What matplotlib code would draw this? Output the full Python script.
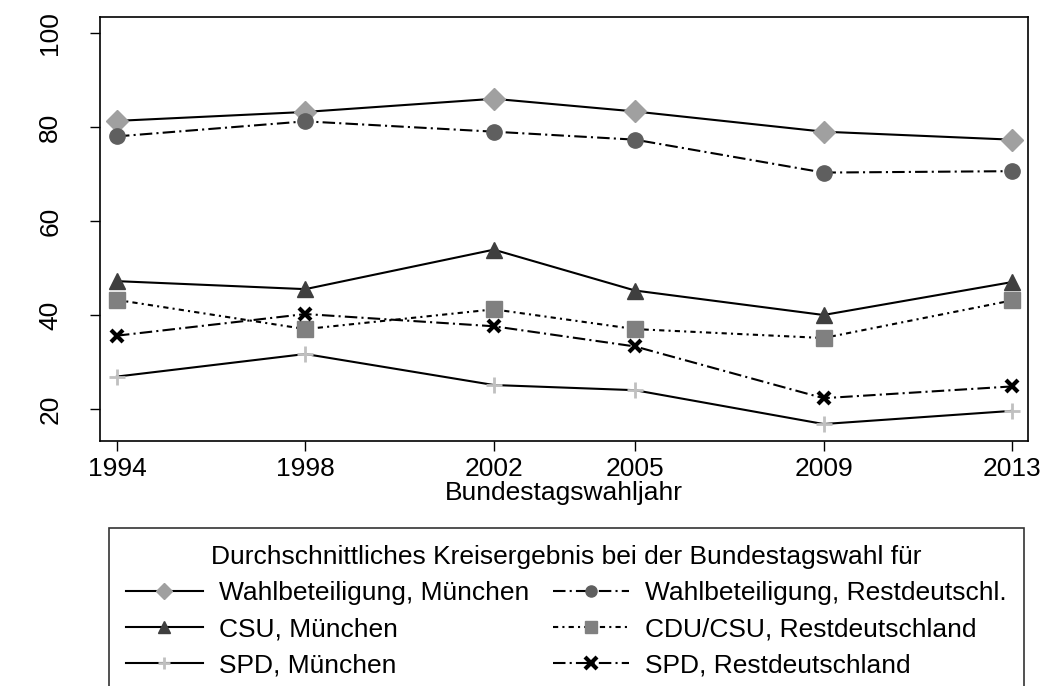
import matplotlib
matplotlib.use("Agg")
import matplotlib.pyplot as plt

plt.rcParams['font.family'] = ['Liberation Sans', 'DejaVu Sans']

# election years
years = [1994, 1998, 2002, 2005, 2009, 2013]

# average district results (percent)
turnout_muc = [81.3, 83.2, 86.0, 83.3, 79.0, 77.3]
turnout_rest = [78.0, 81.2, 79.0, 77.3, 70.3, 70.6]
csu_muc = [47.2, 45.5, 53.9, 45.2, 40.0, 47.0]
cdu_rest = [43.2, 37.0, 41.2, 37.0, 35.1, 43.1]
spd_muc = [26.9, 31.7, 25.1, 24.0, 16.8, 19.6]
spd_rest = [35.6, 40.2, 37.6, 33.3, 22.3, 24.8]

labels_muc = ["Wahlbeteiligung, München", "CSU, München", "SPD, München"]
labels_rest = ["Wahlbeteiligung, Restdeutschl.", "CDU/CSU, Restdeutschland",
               "SPD, Restdeutschland"]

longdash_dot = (0, (6, 2, 1, 2))
shortdash_dot = (0, (2.5, 2, 1, 2))

fs = 19
fig = plt.figure(figsize=(10.46, 6.86), dpi=100)
ax = fig.add_axes([100/1046, 1 - 441/686, 928/1046, 424/686])

lw = 1.5
l1, = ax.plot(years, turnout_muc, color='black', lw=lw, marker='D', ms=11,
              mfc='#a0a0a0', mec='#a0a0a0')
l2, = ax.plot(years, turnout_rest, color='black', lw=lw, ls=longdash_dot, marker='o',
              ms=11, mfc='#5f5f5f', mec='#5f5f5f')
l3, = ax.plot(years, csu_muc, color='black', lw=lw, marker='^', ms=11,
              mfc='#3f3f3f', mec='#3f3f3f')
l4, = ax.plot(years, cdu_rest, color='black', lw=lw, ls=shortdash_dot, marker='s',
              ms=11, mfc='#808080', mec='#808080')
l5, = ax.plot(years, spd_muc, color='black', lw=lw, marker='+', ms=11, mew=2,
              mfc='#c0c0c0', mec='#c0c0c0')
l6, = ax.plot(years, spd_rest, color='black', lw=lw, ls=longdash_dot, marker='x',
              ms=8, mew=3, mfc='black', mec='black')

ax.set_xlim(1993.64, 2013.34)
ax.set_ylim(13.19, 103.4)
ax.set_xticks(years)
ax.set_yticks([20, 40, 60, 80, 100])
ax.tick_params(axis='both', labelsize=fs, length=7.2, width=1, direction='out')
ax.tick_params(axis='x', pad=4.3)
ax.tick_params(axis='y', pad=20)
for t in ax.get_yticklabels():
    t.set_rotation(90)
    t.set_va('center')
ax.set_xlabel("Bundestagswahljahr", fontsize=fs, labelpad=0)
for s in ax.spines.values():
    s.set_linewidth(1.2)

# legend rows: München left, Restdeutschland right
handles = [l1, l3, l5, l2, l4, l6]
labels = labels_muc + labels_rest
leg = fig.legend(handles, labels, loc='upper left',
                 bbox_to_anchor=(109/1046, 1 - 528/686),
                 ncol=2, fontsize=fs, numpoints=1,
                 title="Durchschnittliches Kreisergebnis bei der Bundestagswahl für",
                 title_fontsize=fs, handlelength=2.9, handletextpad=0.6,
                 borderaxespad=0, borderpad=0.65, labelspacing=0.46,
                 fancybox=False, edgecolor='black', columnspacing=0.9)
leg.get_frame().set_linewidth(1.2)
for h in leg.legend_handles:
    h.set_markersize(8)

fig.savefig("out.png", dpi=100)
